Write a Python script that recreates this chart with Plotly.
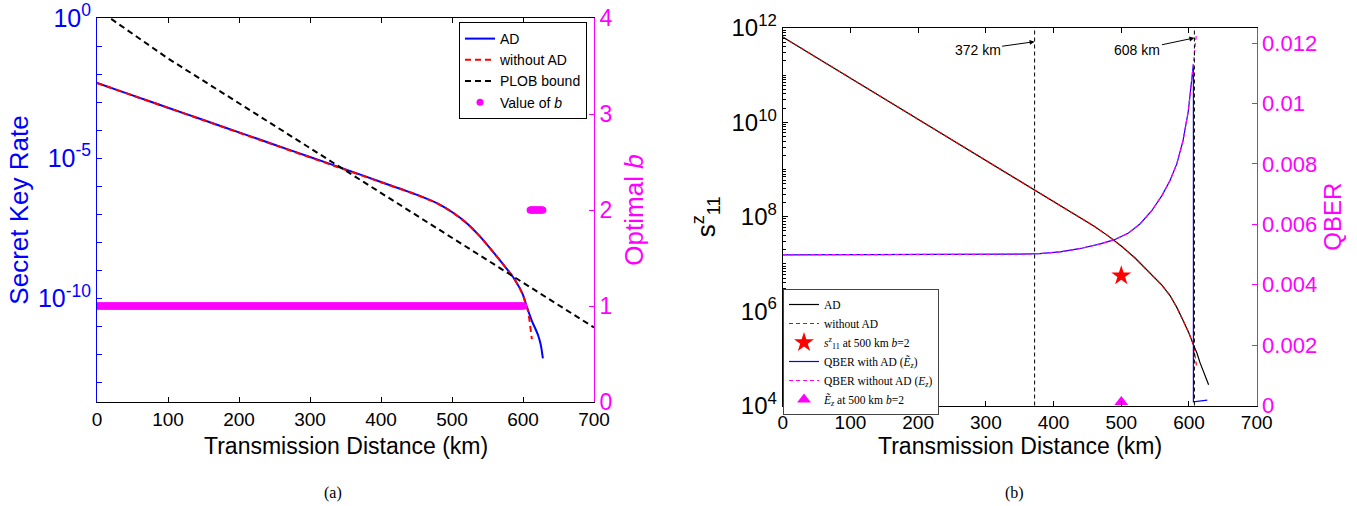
import plotly.graph_objects as go

# ---------------- Panel (a) data ----------------
skr_dist = [0, 50, 100, 150, 200, 250, 300, 350, 400, 450, 480, 500, 520, 539, 563, 586, 595, 600, 605,
            609, 613, 617, 621, 624, 626, 628]
skr_ad = [4.79e-3, 1.74e-3, 6.31e-4, 2.29e-4, 8.32e-5, 3.02e-5, 1.10e-5, 3.98e-6, 1.41e-6, 5.0e-7,
          2.4e-7, 1.2e-7, 5.0e-8, 1.66e-8, 3.16e-9, 5.75e-10, 2.4e-10, 1.32e-10, 5.25e-11,
          2.75e-11, 1.45e-11, 8.7e-12, 5.0e-12, 2.8e-12, 1.6e-12, 7.2e-13]
noad_dist = [0, 50, 100, 150, 200, 250, 300, 350, 400, 450, 480, 500, 520, 539, 563, 586, 595, 600, 605,
             607, 609, 611, 612.5]
skr_noad = [4.79e-3, 1.74e-3, 6.31e-4, 2.29e-4, 8.32e-5, 3.02e-5, 1.10e-5, 3.98e-6, 1.41e-6, 5.0e-7,
            2.4e-7, 1.2e-7, 5.0e-8, 1.66e-8, 3.16e-9, 5.75e-10, 2.4e-10, 1.32e-10, 5.25e-11,
            3.55e-11, 1.78e-11, 7.1e-12, 3.5e-12]
plob_dist = [20, 100, 200, 300, 400, 500, 600, 700]
plob_vals = [0.93, 3.6e-2, 9.1e-4, 2.3e-5, 5.8e-7, 1.45e-8, 3.6e-10, 9.1e-12]
b_dist = list(range(0, 602)) + list(range(610, 629))
b_vals = [1] * 602 + [2] * 19

# ---------------- Panel (b) data ----------------
s11_dist = [0, 100, 200, 300, 372, 400, 430, 460, 480, 500, 520, 543, 560, 572, 582, 592, 600, 606.5,
            612, 616, 622, 629]
s11_ad = [6.46e11, 8.71e10, 1.17e10, 1.58e9, 3.72e8, 2.14e8, 1.17e8, 6.3e7, 3.98e7, 2.4e7, 1.35e7,
          6.3e6, 3.55e6, 2.14e6, 1.2e6, 6.0e5, 3.4e5, 1.95e5, 1.26e5, 8.3e4, 5.0e4, 2.75e4]
s11n_dist = [0, 100, 200, 300, 372, 400, 430, 460, 480, 500, 520, 543, 560, 572, 582, 592, 600, 606.5,
             609, 611.5]
s11_noad = [6.46e11, 8.71e10, 1.17e10, 1.58e9, 3.72e8, 2.14e8, 1.17e8, 6.3e7, 3.98e7, 2.4e7, 1.35e7,
            6.3e6, 3.55e6, 2.14e6, 1.2e6, 6.0e5, 3.4e5, 1.95e5, 1.1e5, 6.3e4]
qber_dist = [0, 100, 200, 300, 350, 380, 410, 440, 469, 490, 510, 528, 545, 560, 572, 582, 591, 599,
             603, 606.5, 606.5, 615, 627]
qber_ad = [0.00499, 0.00499, 0.00499, 0.005, 0.00501, 0.00503, 0.00509, 0.0052, 0.00535, 0.00549,
           0.0057, 0.00602, 0.00645, 0.00695, 0.00745, 0.008, 0.00875, 0.00975, 0.0105, 0.0113,
           0.00012, 0.00015, 0.00018]
qbern_dist = [0, 100, 200, 300, 350, 380, 410, 440, 469, 490, 510, 528, 545, 560, 572, 582, 591, 599,
              603, 606.5, 609, 611]
qber_noad = [0.00499, 0.00499, 0.00499, 0.005, 0.00501, 0.00503, 0.00509, 0.0052, 0.00535, 0.00549,
             0.0057, 0.00602, 0.00645, 0.00695, 0.00745, 0.008, 0.00875, 0.00975, 0.0105, 0.0113,
             0.0119, 0.0123]
star_dist, star_val = [500], [5.6e6]
tri_dist, tri_val = [500], [0.00012]
vline_km = [372, 608]
arrow_labels = ["372 km", "608 km"]
x_title = "Transmission Distance (km)"

SANS = "Liberation Sans, Arial, sans-serif"
SERIF = "Liberation Serif, Times New Roman, serif"
BLUE, RED, MAG = "#0000FF", "#FF0000", "#FF00FF"

fig = go.Figure()

# panel (a)
fig.add_trace(go.Scatter(x=skr_dist, y=skr_ad, mode="lines", name="AD", line_shape="spline",
                         line=dict(color=BLUE, width=2, smoothing=0.6), xaxis="x", yaxis="y", legend="legend"))
fig.add_trace(go.Scatter(x=noad_dist, y=skr_noad, mode="lines", name="without AD",
                         line=dict(color=RED, width=2, dash="6px,4px"), xaxis="x", yaxis="y", legend="legend"))
fig.add_trace(go.Scatter(x=plob_dist, y=plob_vals, mode="lines", name="PLOB bound",
                         line=dict(color="black", width=2, dash="6px,4px"), xaxis="x", yaxis="y", legend="legend"))
fig.add_trace(go.Scatter(x=b_dist, y=b_vals, mode="markers", name="Value of <i>b</i>",
                         marker=dict(color=MAG, size=7), xaxis="x", yaxis="y2", legend="legend"))

# panel (b)
fig.add_trace(go.Scatter(x=s11_dist, y=s11_ad, mode="lines", name="AD",
                         line=dict(color="black", width=1.2), xaxis="x2", yaxis="y3", legend="legend2"))
fig.add_trace(go.Scatter(x=s11n_dist, y=s11_noad, mode="lines", name="without AD",
                         line=dict(color=RED, width=1.2, dash="4px,3px"), xaxis="x2", yaxis="y3", legend="legend2"))
fig.add_trace(go.Scatter(x=star_dist, y=star_val, mode="markers",
                         name="<i>s</i><sup>z</sup><sub>11</sub> at 500 km <i>b</i>=2",
                         marker=dict(color=RED, size=15, symbol="star"), xaxis="x2", yaxis="y3", legend="legend2"))
fig.add_trace(go.Scatter(x=qber_dist, y=qber_ad, mode="lines", name="QBER with AD (<i>Ẽ<sub>z</sub></i>)",
                         line=dict(color=BLUE, width=1.2), xaxis="x2", yaxis="y4", legend="legend2"))
fig.add_trace(go.Scatter(x=qbern_dist, y=qber_noad, mode="lines", name="QBER without AD (<i>E<sub>z</sub></i>)",
                         line=dict(color=MAG, width=1.2, dash="4px,3px"), xaxis="x2", yaxis="y4", legend="legend2"))
fig.add_trace(go.Scatter(x=tri_dist, y=tri_val, mode="markers", name="<i>Ẽ<sub>z</sub></i> at 500 km <i>b</i>=2",
                         marker=dict(color=MAG, size=12, symbol="triangle-up"), xaxis="x2", yaxis="y4", legend="legend2"))

W, H = 1357, 506
def px(x): return x / W
def py(y): return 1 - y / H

xa_dom = [px(97), px(594)]
ya_dom = [py(402), py(18)]
xb_dom = [px(782.7), px(1256.7)]
yb_dom = [py(405.5), py(28)]

tickfont_x = dict(family=SANS, size=19, color="black")

minor_a = [10.0 ** (-k) for k in range(0, 14)]
minor_b = [m * 10.0 ** k for k in range(4, 12) for m in range(1, 10)] + [1e12]

common = dict(showgrid=False, zeroline=False, automargin=False, ticks="inside", ticklen=5, linewidth=1,
              showline=True)

fig.update_layout(
    width=W, height=H, margin=dict(l=0, r=0, t=0, b=0, autoexpand=False),
    paper_bgcolor="white", plot_bgcolor="white",
    font=dict(family=SANS),
    xaxis=dict(domain=xa_dom, anchor="y", range=[0, 700], dtick=100, tick0=0,
               linecolor="black", mirror="ticks", tickcolor="black", tickfont=tickfont_x, **common),
    yaxis=dict(domain=ya_dom, anchor="x", type="log", range=[-13.7, 0],
               tickvals=[1e-10, 1e-5, 1], ticktext=["10<sup>-10</sup>", "10<sup>-5</sup>", "10<sup>0</sup>"],
               linecolor=BLUE, tickcolor=BLUE,
               minor=dict(tickvals=minor_a, ticks="inside", ticklen=5, tickcolor=BLUE),
               tickfont=dict(family=SANS, size=25, color=BLUE),
               title=dict(text="Secret Key Rate", font=dict(family=SANS, size=26, color=BLUE), standoff=1),
               **common),
    yaxis2=dict(overlaying="y", anchor="x", side="right", range=[0, 4], dtick=1,
                linecolor=MAG, tickcolor=MAG,
                tickfont=dict(family=SANS, size=23, color=MAG),
                title=dict(text="Optimal <i>b</i>", font=dict(family=SANS, size=26, color=MAG), standoff=13),
                **common),
    xaxis2=dict(domain=xb_dom, anchor="y3", range=[0, 700], dtick=100, tick0=0,
                linecolor="black", mirror="ticks", tickcolor="black", tickfont=tickfont_x, **common),
    yaxis3=dict(domain=yb_dom, anchor="x2", type="log", range=[4, 12],
                tickvals=[1e4, 1e6, 1e8, 1e10, 1e12],
                ticktext=["10<sup>4</sup>", "10<sup>6</sup>", "10<sup>8</sup>", "10<sup>10</sup>", "10<sup>12</sup>"],
                linecolor="black", tickcolor="black",
                minor=dict(tickvals=minor_b, ticks="inside", ticklen=3, tickcolor="black"),
                tickfont=dict(family=SANS, size=24, color="black"),
                title=dict(text="s<sup>z</sup><sub>11</sub>", font=dict(family=SANS, size=26, color="black"), standoff=8),
                **common),
    yaxis4=dict(overlaying="y3", anchor="x2", side="right", range=[0, 0.0125], dtick=0.002, tick0=0,
                linecolor=MAG, tickcolor=MAG,
                tickfont=dict(family=SANS, size=22, color=MAG),
                title=dict(text="QBER", font=dict(family=SANS, size=24, color=MAG), standoff=8),
                **common),
    legend=dict(x=px(587), y=py(22), xanchor="right", yanchor="top",
                bordercolor="black", borderwidth=1, bgcolor="white",
                font=dict(family=SANS, size=14, color="black"), tracegroupgap=0, itemwidth=30),
    legend2=dict(x=px(783), y=py(289), xanchor="left", yanchor="top",
                 bordercolor="#444", borderwidth=1, bgcolor="white",
                 font=dict(family=SERIF, size=11.5, color="black"), tracegroupgap=0, itemwidth=30),
    showlegend=True,
)

# x-axis titles
for dom in (xa_dom, xb_dom):
    fig.add_annotation(x=(dom[0] + dom[1]) / 2, y=py(446), xref="paper", yref="paper", text=x_title,
                       showarrow=False, xanchor="center", yanchor="middle",
                       font=dict(family=SANS, size=23, color="black"))

# vertical dashed markers in panel (b)
for km in vline_km:
    fig.add_shape(type="line", xref="x2", yref="y3 domain", x0=km, x1=km, y0=0, y1=1,
                  line=dict(color="black", width=1, dash="4px,3px"))

# arrow annotations (log axis: y in exponent units)
fig.add_annotation(x=vline_km[0], y=11.71, xref="x2", yref="y3", text=arrow_labels[0],
                   showarrow=True, arrowhead=2, arrowsize=1, arrowwidth=1, arrowcolor="black",
                   ax=-57, ay=8, font=dict(family=SANS, size=14, color="black"))
fig.add_annotation(x=vline_km[1], y=11.79, xref="x2", yref="y3", text=arrow_labels[1],
                   showarrow=True, arrowhead=2, arrowsize=1, arrowwidth=1, arrowcolor="black",
                   ax=-57, ay=12, font=dict(family=SANS, size=14, color="black"))

# captions
fig.add_annotation(x=px(333), y=py(493), xref="paper", yref="paper", text="(a)", showarrow=False,
                   xanchor="center", yanchor="middle", font=dict(family=SERIF, size=16, color="black"))
fig.add_annotation(x=px(1015), y=py(493), xref="paper", yref="paper", text="(b)", showarrow=False,
                   xanchor="center", yanchor="middle", font=dict(family=SERIF, size=16, color="black"))

fig.write_html("out.html")
